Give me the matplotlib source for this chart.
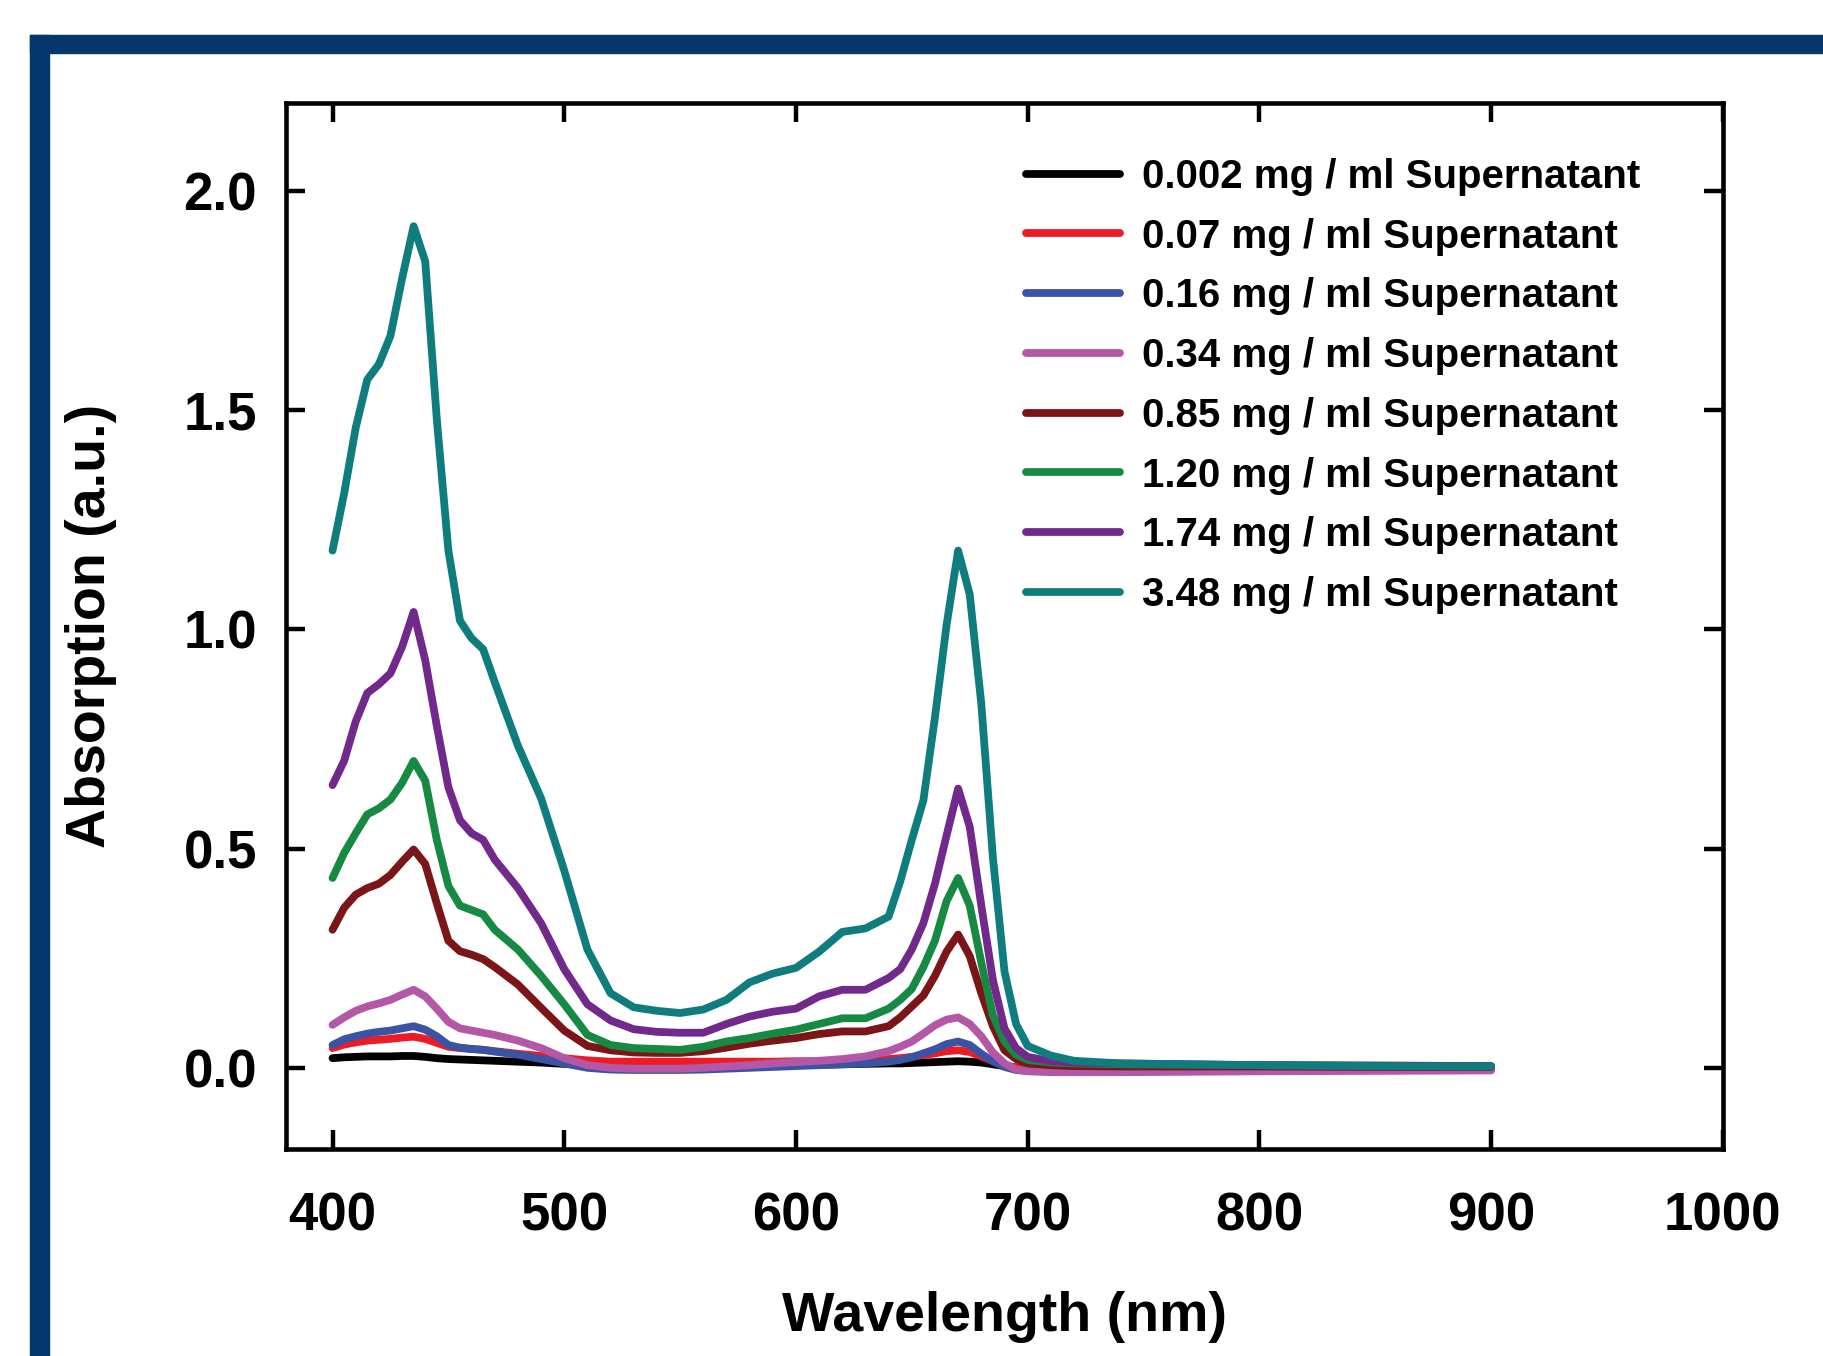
import matplotlib
matplotlib.use('Agg')
import matplotlib.pyplot as plt
from matplotlib.patches import Rectangle

plt.rcParams['font.family'] = 'Liberation Sans'
plt.rcParams['font.weight'] = 'bold'

# wavelength grid (nm), finer around the two absorption peaks
wl = [400, 405, 410, 415, 420, 425, 430, 435, 440, 445, 450, 455, 460, 465, 470,
      480, 490, 500, 510, 520, 530, 540, 550, 560, 570, 580, 590, 600, 610, 620, 630, 640,
      645, 650, 655, 660, 665, 670, 675, 680, 685, 690, 695, 700,
      710, 720, 740, 770, 800, 850, 900]

a_0002 = [0.022, 0.024, 0.025, 0.026, 0.026, 0.026, 0.027, 0.027, 0.025, 0.022, 0.020, 0.019, 0.018, 0.017, 0.016,
          0.014, 0.012, 0.009, 0.006, 0.004, 0.004, 0.004, 0.004, 0.004, 0.004, 0.005, 0.005, 0.006, 0.007, 0.008, 0.009, 0.010,
          0.010, 0.011, 0.012, 0.013, 0.014, 0.015, 0.014, 0.012, 0.008, 0.004, 0.001, 0.000,
          -0.001, -0.002, -0.002, -0.002, -0.002, -0.002, -0.002]
a_007 = [0.045, 0.053, 0.058, 0.062, 0.064, 0.066, 0.069, 0.071, 0.066, 0.057, 0.048, 0.045, 0.043, 0.041, 0.038,
         0.032, 0.027, 0.022, 0.017, 0.014, 0.014, 0.014, 0.014, 0.014, 0.014, 0.014, 0.014, 0.015, 0.015, 0.016, 0.017, 0.020,
         0.022, 0.025, 0.029, 0.033, 0.038, 0.040, 0.036, 0.026, 0.015, 0.006, 0.000, -0.003,
         -0.004, -0.004, -0.004, -0.004, -0.003, -0.003, -0.003]
a_016 = [0.052, 0.065, 0.072, 0.078, 0.082, 0.085, 0.090, 0.095, 0.087, 0.072, 0.052, 0.046, 0.043, 0.041, 0.037,
         0.030, 0.020, 0.010, 0.000, -0.004, -0.005, -0.005, -0.005, -0.004, -0.002, 0.000, 0.002, 0.004, 0.006, 0.008, 0.010, 0.014,
         0.018, 0.024, 0.033, 0.042, 0.054, 0.060, 0.052, 0.032, 0.015, 0.002, -0.005, -0.007,
         -0.007, -0.006, -0.006, -0.005, -0.005, -0.004, -0.004]
a_034 = [0.098, 0.115, 0.130, 0.140, 0.147, 0.155, 0.167, 0.178, 0.163, 0.135, 0.105, 0.090, 0.085, 0.080, 0.075,
         0.062, 0.045, 0.022, 0.006, 0.000, -0.002, -0.002, -0.002, 0.000, 0.003, 0.006, 0.010, 0.013, 0.016, 0.020, 0.026, 0.038,
         0.048, 0.060, 0.078, 0.097, 0.110, 0.115, 0.100, 0.072, 0.035, 0.010, -0.004, -0.008,
         -0.010, -0.010, -0.010, -0.009, -0.008, -0.007, -0.006]
a_085 = [0.315, 0.365, 0.395, 0.410, 0.420, 0.440, 0.470, 0.498, 0.465, 0.375, 0.290, 0.266, 0.258, 0.248, 0.230,
         0.190, 0.137, 0.085, 0.050, 0.040, 0.035, 0.034, 0.034, 0.038, 0.046, 0.055, 0.062, 0.068, 0.077, 0.083, 0.083, 0.095,
         0.115, 0.140, 0.165, 0.210, 0.265, 0.304, 0.255, 0.170, 0.095, 0.040, 0.020, 0.010,
         0.006, 0.004, 0.003, 0.003, 0.003, 0.002, 0.002]
a_120 = [0.433, 0.490, 0.535, 0.578, 0.592, 0.612, 0.650, 0.700, 0.655, 0.520, 0.415, 0.370, 0.360, 0.350, 0.315,
         0.270, 0.210, 0.145, 0.075, 0.052, 0.045, 0.043, 0.041, 0.048, 0.060, 0.068, 0.078, 0.087, 0.100, 0.113, 0.113, 0.135,
         0.155, 0.180, 0.230, 0.290, 0.380, 0.433, 0.370, 0.240, 0.120, 0.060, 0.030, 0.018,
         0.012, 0.010, 0.008, 0.007, 0.006, 0.005, 0.004]
a_174 = [0.645, 0.700, 0.790, 0.855, 0.875, 0.900, 0.960, 1.040, 0.930, 0.780, 0.640, 0.565, 0.535, 0.520, 0.475,
         0.410, 0.330, 0.225, 0.145, 0.108, 0.088, 0.082, 0.080, 0.080, 0.100, 0.117, 0.128, 0.135, 0.163, 0.178, 0.178, 0.205,
         0.225, 0.270, 0.330, 0.420, 0.530, 0.637, 0.550, 0.370, 0.200, 0.090, 0.045, 0.025,
         0.015, 0.012, 0.010, 0.008, 0.006, 0.005, 0.004]
a_348 = [1.180, 1.310, 1.460, 1.570, 1.605, 1.670, 1.800, 1.920, 1.840, 1.480, 1.180, 1.020, 0.980, 0.955, 0.880,
         0.735, 0.615, 0.450, 0.270, 0.170, 0.138, 0.130, 0.125, 0.133, 0.155, 0.195, 0.215, 0.228, 0.265, 0.310, 0.318, 0.345,
         0.425, 0.520, 0.610, 0.800, 1.010, 1.180, 1.080, 0.830, 0.480, 0.220, 0.100, 0.050,
         0.028, 0.016, 0.010, 0.008, 0.006, 0.004, 0.003]

series = [a_0002, a_007, a_016, a_034, a_085, a_120, a_174, a_348]
labels = ['0.002 mg / ml Supernatant', '0.07 mg / ml Supernatant', '0.16 mg / ml Supernatant',
          '0.34 mg / ml Supernatant', '0.85 mg / ml Supernatant', '1.20 mg / ml Supernatant',
          '1.74 mg / ml Supernatant', '3.48 mg / ml Supernatant']
colors = ['#000000', '#ed1c24', '#3a53a4', '#b357a6', '#7b1517', '#168a43', '#71298b', '#0f7c7e']

navy = '#03376b'
lw = 5.6

fig = plt.figure(figsize=(18.24, 13.56), dpi=100)

# dark blue frame (top and left edge of the panel)
fig.patches.append(Rectangle((0.0164, 0.961), 1 - 0.0164, 0.013, transform=fig.transFigure,
                             color=navy, zorder=0))
fig.patches.append(Rectangle((0.0164, 0.0), 0.0105, 0.974, transform=fig.transFigure,
                             color=navy, zorder=0))

ax = fig.add_axes([0.1569, 0.1524, 0.7876, 0.7713])

for y, lab, c in zip(series, labels, colors):
    ax.plot(wl, y, color=c, lw=lw, label=lab, solid_joinstyle='round', solid_capstyle='round')

ax.set_xlim(380, 1000)
ax.set_ylim(-0.186, 2.2)
ax.set_xticks([400, 500, 600, 700, 800, 900, 1000])
ax.set_yticks([0.0, 0.5, 1.0, 1.5, 2.0])
ax.set_yticklabels(['0.0', '0.5', '1.0', '1.5', '2.0'])

ax.tick_params(axis='both', direction='in', length=14, width=3.2, labelsize=38,
               top=True, right=True)
ax.tick_params(axis='x', pad=30)
ax.tick_params(axis='y', pad=21)
for s in ax.spines.values():
    s.set_linewidth(3.3)

# kept just inside the bottom edge
ax.set_xlabel('Wavelength (nm)', fontsize=40, fontweight='bold')
ax.xaxis.set_label_coords(0.5, -0.135)
ax.set_ylabel('Absorption (a.u.)', fontsize=40, fontweight='bold')
ax.yaxis.set_label_coords(-0.118, 0.5)

leg = ax.legend(loc='upper left', bbox_to_anchor=(0.5625, 0.8836), bbox_transform=fig.transFigure,
                frameon=False, fontsize=29, handlelength=2.33, handletextpad=0.55,
                labelspacing=0.54, borderpad=0, borderaxespad=0)
for h in leg.get_lines():
    h.set_linewidth(lw)

fig.savefig('out.png', dpi=100)
